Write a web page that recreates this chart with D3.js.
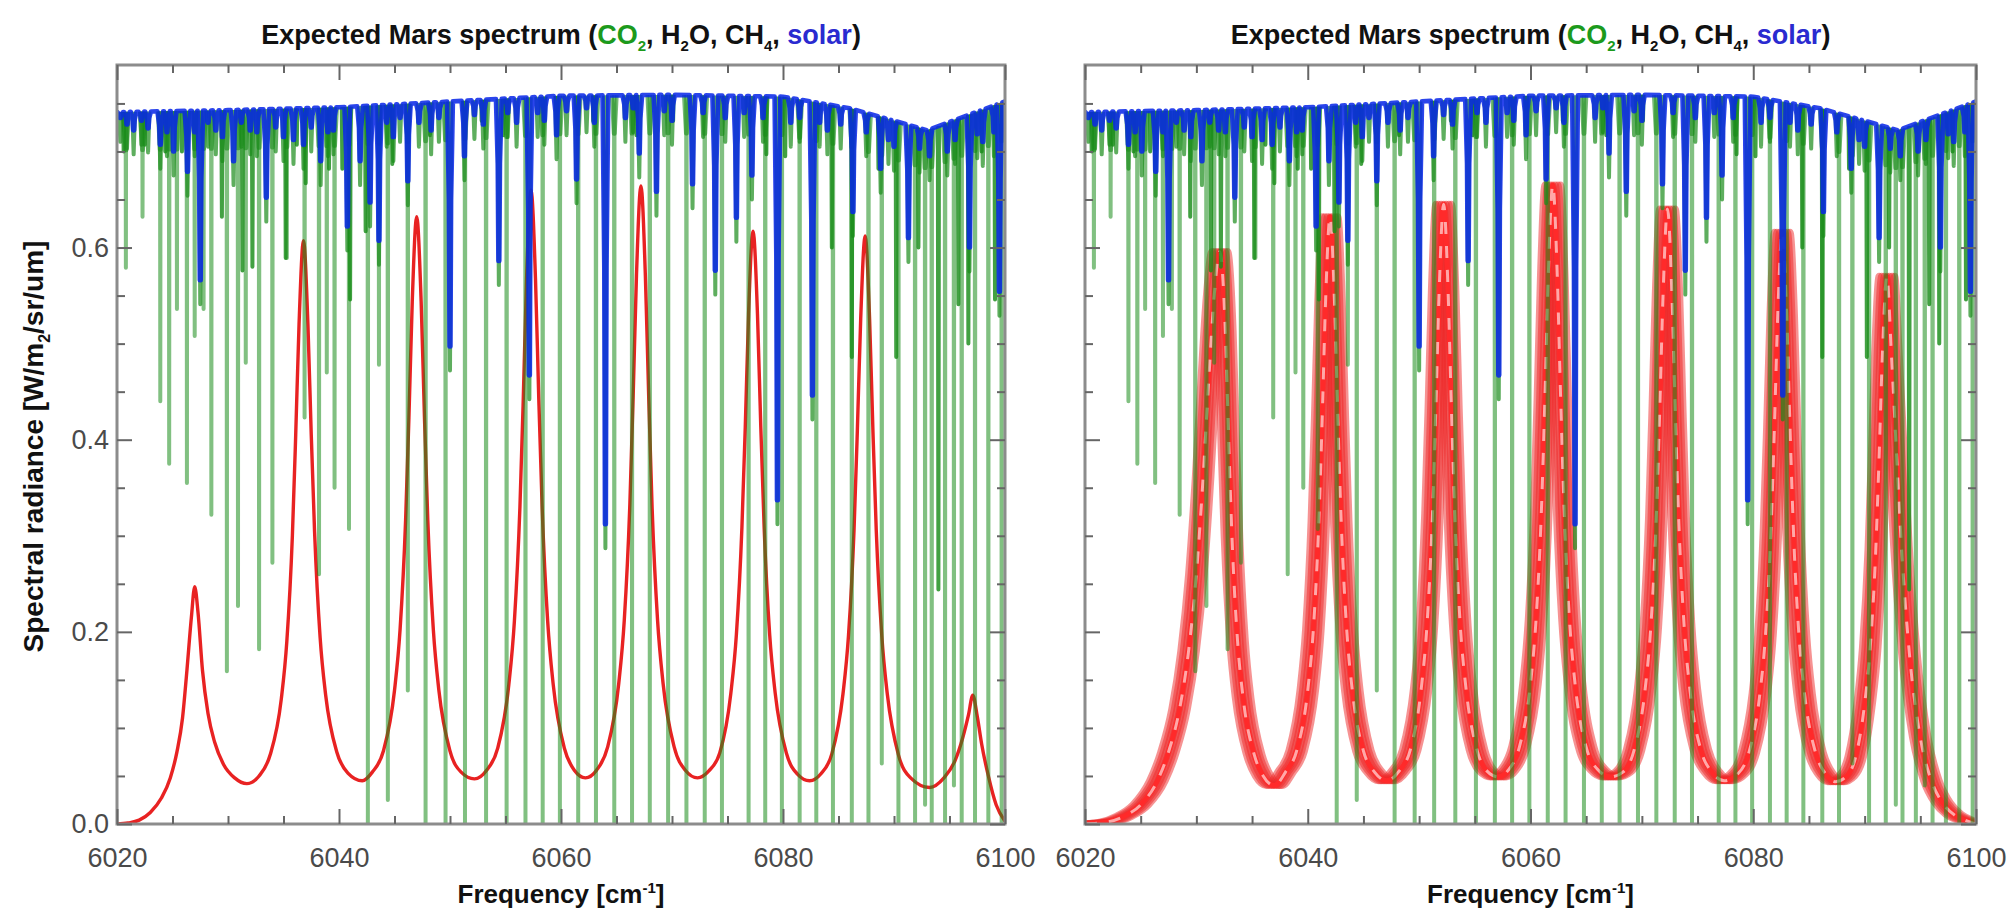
<!DOCTYPE html>
<html><head><meta charset="utf-8">
<script src="https://cdn.jsdelivr.net/npm/d3@7"></script>
<style>
body{margin:0;background:#fff;}
svg text{font-family:"Liberation Sans",Arial,sans-serif;}
</style></head><body>
<svg id="chart" width="2011" height="913"></svg>
<script>
// ---------------- data ----------------
const xTicks = [6020, 6040, 6060, 6080, 6100];
const yTicks = [0.0, 0.2, 0.4, 0.6];
const xDomain = [6020, 6100];
const yDomain = [0, 0.79];

// solar continuum level [frequency, radiance]
const continuum = [[6020,0.741],[6030,0.743],[6040,0.746],[6050,0.752],[6060,0.758],[6070,0.759],[6080,0.757],[6086,0.745],[6090,0.732],[6093,0.722],[6096,0.735],[6100,0.752]];

// CO2 absorption lines [frequency, minimum radiance]
const co2Lines = [[6020.8,0.579],[6022.3,0.632],[6023.9,0.44],[6024.7,0.375],[6025.4,0.536],[6026.3,0.355],[6027.0,0.508],[6027.8,0.536],[6028.5,0.322],[6029.9,0.159],[6030.9,0.227],[6031.6,0.48],[6032.8,0.182],[6034.0,0.272],[6035.3,0.589],[6036.9,0.423],[6038.2,0.26],[6038.9,0.47],[6039.6,0.35],[6040.9,0.307],[6042.6,0.0],[6043.6,0.478],[6044.4,0.025],[6046.2,0.139],[6047.8,0],[6049.6,0],[6051.35,0],[6053.25,0],[6055.1,0],[6056.8,0],[6058.35,0],[6059.9,0],[6061.55,0],[6063.15,0],[6064.8,0],[6066.4,0],[6068.0,0],[6069.65,0],[6071.3,0],[6072.95,0],[6074.5,0],[6076.9,0],[6078.4,0],[6079.9,0],[6081.5,0],[6083.0,0],[6084.5,0],[6086.2,0],[6087.7,0],[6088.9,0.063],[6090.4,0],[6091.9,0],[6092.8,0.02],[6093.4,0],[6094.6,0],[6095.4,0.04],[6096.1,0],[6097.3,0],[6098.5,0],[6099.7,0]];

// H2O / CH4 weaker lines [frequency, minimum radiance]
const h2oLines = [[6020.6,0.70],[6022.5,0.707],[6024.35,0.70],[6025.85,0.70],[6029.45,0.632],[6031.3,0.576],[6032.2,0.58],[6035.2,0.589],[6036.2,0.707],[6037.0,0.667],[6039.1,0.682],[6040.3,0.682],[6041.0,0.546],[6042.4,0.617],[6044.8,0.687],[6048.2,0.717],[6052.85,0.732],[6054.8,0.717],[6059.6,0.717],[6062.9,0.732],[6066.8,0.717],[6070.1,0.732],[6078.5,0.697],[6080.2,0.695],[6084.4,0.60],[6086.2,0.486],[6088.6,0.682],[6090.2,0.486],[6092.2,0.60],[6094.0,0.244],[6095.8,0.541],[6096.7,0.50],[6097.9,0.70],[6099.1,0.546]];

// solar (Fraunhofer) lines [frequency, minimum radiance]
const solarLines = [[6020.3,0.735],[6020.9,0.728],[6021.5,0.722],[6022.2,0.732],[6022.8,0.724],[6023.9,0.707],[6024.5,0.72],[6025.1,0.70],[6026.35,0.679],[6027.0,0.72],[6027.5,0.566],[6028.2,0.73],[6028.9,0.722],[6029.5,0.715],[6030.5,0.69],[6031.2,0.73],[6032.0,0.722],[6032.6,0.72],[6033.45,0.652],[6034.3,0.725],[6035.0,0.715],[6035.9,0.712],[6036.8,0.707],[6037.5,0.725],[6038.35,0.69],[6039.0,0.72],[6039.5,0.722],[6040.75,0.622],[6041.9,0.69],[6042.8,0.647],[6043.6,0.607],[6044.3,0.73],[6044.9,0.715],[6045.5,0.735],[6046.2,0.669],[6047.2,0.73],[6048.3,0.722],[6049.0,0.735],[6050.0,0.497],[6051.3,0.695],[6052.2,0.738],[6053.0,0.728],[6054.4,0.586],[6055.2,0.74],[6056.0,0.73],[6057.15,0.467],[6057.9,0.74],[6058.5,0.732],[6059.6,0.717],[6060.5,0.742],[6061.4,0.671],[6062.3,0.745],[6063.0,0.73],[6064.0,0.312],[6065.8,0.735],[6066.5,0.745],[6067.05,0.698],[6068.6,0.658],[6069.3,0.742],[6070.0,0.732],[6071.85,0.666],[6072.8,0.74],[6073.9,0.576],[6074.8,0.735],[6075.8,0.631],[6076.5,0.74],[6077.2,0.675],[6078.2,0.735],[6079.5,0.337],[6080.7,0.73],[6081.5,0.735],[6082.65,0.446],[6083.3,0.73],[6084.0,0.722],[6085.2,0.728],[6086.3,0.637],[6087.5,0.72],[6088.8,0.682],[6089.5,0.712],[6090.0,0.705],[6091.3,0.61],[6092.3,0.703],[6093.2,0.695],[6094.8,0.70],[6095.5,0.712],[6096.8,0.60],[6097.5,0.718],[6098.0,0.71],[6099.0,0.72],[6099.5,0.554]];

// instrument transmission (left panel, single order) [frequency, radiance]
const filterLeft = [[6020.0,0.000],[6021.0,0.001],[6022.0,0.004],[6023.0,0.012],[6024.0,0.027],[6024.8,0.048],[6025.4,0.075],[6025.9,0.110],[6026.3,0.160],[6026.7,0.215],[6027.0,0.247],[6027.3,0.220],[6027.7,0.160],[6028.2,0.115],[6028.8,0.085],[6029.6,0.062],[6030.6,0.048],[6031.7,0.042],[6032.8,0.050],[6033.8,0.072],[6034.8,0.130],[6035.3,0.190],[6035.8,0.300],[6036.1,0.405],[6036.4,0.520],[6036.8,0.607],[6037.2,0.520],[6037.5,0.405],[6037.8,0.304],[6038.3,0.194],[6038.8,0.134],[6039.8,0.075],[6040.8,0.053],[6042.1,0.045],[6043.0,0.054],[6044.0,0.076],[6045.0,0.139],[6045.5,0.202],[6046.0,0.316],[6046.3,0.423],[6046.6,0.544],[6047.0,0.632],[6047.4,0.544],[6047.7,0.423],[6048.0,0.316],[6048.5,0.202],[6049.0,0.139],[6050.0,0.076],[6051.0,0.054],[6052.2,0.047],[6053.3,0.056],[6054.3,0.079],[6055.3,0.145],[6055.8,0.211],[6056.3,0.330],[6056.6,0.442],[6056.9,0.568],[6057.3,0.660],[6057.7,0.568],[6058.0,0.442],[6058.3,0.330],[6058.8,0.211],[6059.3,0.145],[6060.3,0.079],[6061.2,0.056],[6062.2,0.048],[6063.2,0.056],[6064.2,0.080],[6065.2,0.146],[6065.7,0.212],[6066.2,0.332],[6066.5,0.445],[6066.8,0.571],[6067.2,0.664],[6067.6,0.571],[6067.9,0.445],[6068.2,0.332],[6068.7,0.212],[6069.2,0.146],[6070.2,0.080],[6071.2,0.056],[6072.3,0.048],[6073.3,0.055],[6074.3,0.074],[6075.3,0.136],[6075.8,0.197],[6076.3,0.309],[6076.6,0.413],[6076.9,0.531],[6077.3,0.617],[6077.7,0.531],[6078.0,0.413],[6078.3,0.309],[6078.8,0.197],[6079.3,0.136],[6080.3,0.074],[6081.3,0.052],[6082.4,0.045],[6083.4,0.052],[6084.4,0.073],[6085.4,0.135],[6085.9,0.196],[6086.4,0.306],[6086.7,0.410],[6087.0,0.526],[6087.4,0.612],[6087.8,0.526],[6088.1,0.410],[6088.4,0.306],[6088.9,0.196],[6089.4,0.135],[6090.4,0.072],[6091.5,0.048],[6093.2,0.038],[6094.5,0.048],[6095.5,0.066],[6096.2,0.090],[6096.7,0.113],[6097.1,0.134],[6097.5,0.112],[6097.9,0.083],[6098.5,0.050],[6099.2,0.020],[6100.0,0.003]];

// instrument transmission (right panel, centre of tuned family) [frequency, radiance]
const filterRight = [[6020.0,0.000],[6022.0,0.002],[6023.5,0.008],[6025.0,0.020],[6026.5,0.045],[6027.5,0.075],[6028.5,0.120],[6029.3,0.180],[6030.0,0.260],[6030.6,0.360],[6031.1,0.460],[6031.6,0.550],[6032.1,0.596],[6032.6,0.513],[6032.9,0.400],[6033.2,0.298],[6033.7,0.190],[6034.2,0.131],[6035.2,0.072],[6036.0,0.050],[6037.0,0.040],[6038.0,0.054],[6039.0,0.076],[6040.0,0.139],[6040.5,0.202],[6041.0,0.316],[6041.3,0.423],[6041.6,0.544],[6042.0,0.632],[6042.4,0.544],[6042.7,0.423],[6043.0,0.316],[6043.5,0.202],[6044.0,0.139],[6045.0,0.076],[6046.0,0.054],[6047.1,0.045],[6048.2,0.055],[6049.2,0.077],[6050.2,0.142],[6050.7,0.206],[6051.2,0.323],[6051.5,0.432],[6051.8,0.555],[6052.2,0.645],[6052.6,0.555],[6052.9,0.432],[6053.2,0.323],[6053.7,0.206],[6054.2,0.142],[6055.2,0.077],[6056.1,0.055],[6057.1,0.049],[6058.0,0.056],[6059.0,0.080],[6060.0,0.146],[6060.5,0.213],[6061.0,0.333],[6061.3,0.446],[6061.6,0.572],[6062.0,0.665],[6062.4,0.572],[6062.7,0.446],[6063.0,0.333],[6063.5,0.213],[6064.0,0.146],[6065.0,0.080],[6066.1,0.056],[6067.2,0.049],[6068.3,0.054],[6069.3,0.077],[6070.3,0.141],[6070.8,0.205],[6071.3,0.320],[6071.6,0.429],[6071.9,0.550],[6072.3,0.640],[6072.7,0.550],[6073.0,0.429],[6073.3,0.320],[6073.8,0.205],[6074.3,0.141],[6075.3,0.077],[6076.3,0.054],[6077.4,0.045],[6078.6,0.052],[6079.6,0.074],[6080.6,0.136],[6081.1,0.197],[6081.6,0.308],[6081.9,0.413],[6082.2,0.530],[6082.6,0.616],[6083.0,0.530],[6083.3,0.413],[6083.6,0.308],[6084.1,0.197],[6084.6,0.136],[6085.6,0.074],[6086.5,0.052],[6087.4,0.044],[6088.4,0.050],[6089.2,0.070],[6090.0,0.125],[6090.5,0.183],[6091.0,0.285],[6091.3,0.382],[6091.6,0.490],[6092.0,0.570],[6092.4,0.490],[6092.8,0.400],[6093.3,0.290],[6094.0,0.180],[6095.0,0.090],[6096.0,0.045],[6097.0,0.022],[6098.0,0.010],[6099.0,0.004],[6100.0,0.000]];

// tuning offsets of the right-panel family [cm-1]
const bandShifts = [-0.7, -0.47, -0.23, 0, 0.23, 0.47, 0.7];

// ---------------- drawing ----------------
const svg = d3.select("#chart");
const plotTop = 65, plotBottom = 824;
const panels = [
  {x0: 117, x1: 1005, filter: "left", yLabels: true},
  {x0: 1085, x1: 1976, filter: "right", yLabels: false}
];
const GREEN = "rgb(25,140,25)", BLUE = "rgb(8,38,232)", RED = "#e82222";

const cont = d3.scaleLinear().domain(continuum.map(d => d[0])).range(continuum.map(d => d[1])).clamp(true);

panels.forEach((p, i) => {
  const x = d3.scaleLinear().domain(xDomain).range([p.x0, p.x1]);
  const y = d3.scaleLinear().domain(yDomain).range([plotBottom, plotTop]);
  const line = d3.line().x(d => x(d[0])).y(d => y(d[1]));

  const clipId = "clip" + i;
  svg.append("clipPath").attr("id", clipId).append("rect")
    .attr("x", p.x0).attr("y", plotTop).attr("width", p.x1 - p.x0).attr("height", plotBottom - plotTop);
  const g = svg.append("g").attr("clip-path", `url(#${clipId})`);

  // red instrument curve(s)
  if (p.filter === "left") {
    g.append("path").attr("d", line.curve(d3.curveMonotoneX)(filterLeft))
      .attr("fill", "none").attr("stroke", RED).attr("stroke-width", 3.4);
    line.curve(d3.curveLinear);
  } else {
    const sl = d3.line().curve(d3.curveMonotoneX).y(d => y(d[1]));
    bandShifts.forEach(s => {
      g.append("path").attr("d", sl.x(d => x(d[0] + s))(filterRight))
        .attr("fill", "none").attr("stroke", "#ee2828").attr("stroke-opacity", 0.5)
        .attr("stroke-width", 7).attr("stroke-linejoin", "round");
    });
    g.append("path").attr("d", sl.x(d => x(d[0]))(filterRight))
      .attr("fill", "none").attr("stroke", "#ff2a2a").attr("stroke-width", 5);
    g.append("path").attr("d", sl.x(d => x(d[0]))(filterRight))
      .attr("fill", "none").attr("stroke", "#ffa8a8").attr("stroke-width", 3)
      .attr("stroke-dasharray", "12 12");
  }

  // green atmospheric transmission lines
  const gg = g.append("g").attr("fill", "none").attr("stroke", GREEN)
    .attr("stroke-width", 4).attr("stroke-linejoin", "round");
  const lineCore = (f, m, hw) => line([[f - hw, cont(f - hw)], [f, m], [f + hw, cont(f + hw)]]);
  const lineWing = (f, m) => {
    const c = cont(f), w = Math.max(m, c - 0.04);
    return line([[f - 0.22, cont(f - 0.22)], [f - 0.04, w], [f + 0.04, w], [f + 0.22, cont(f + 0.22)]]);
  };
  co2Lines.forEach(([f, m]) => {
    gg.append("path").attr("d", lineWing(f, m)).attr("stroke-opacity", 0.6);
    gg.append("path").attr("d", lineCore(f, m, 0.02)).attr("stroke-opacity", 0.55);
  });
  h2oLines.forEach(([f, m]) => {
    gg.append("path").attr("d", lineCore(f, m, 0.05)).attr("stroke-opacity", 0.82);
  });
  solarLines.forEach(([f, m]) => {
    gg.append("path").attr("d", lineCore(f, Math.max(0, m - 0.025), 0.12)).attr("stroke-opacity", 0.7);
  });

  // blue solar spectrum
  const pts = [];
  continuum.forEach(c => {
    if (!solarLines.some(s => Math.abs(c[0] - s[0]) < 0.26)) pts.push([c[0], c[1]]);
  });
  solarLines.forEach(([f, m]) => {
    const c = cont(f);
    pts.push([f - 0.26, cont(f - 0.26)], [f - 0.1, c - (c - m) * 0.4], [f - 0.04, m],
             [f + 0.04, m], [f + 0.1, c - (c - m) * 0.4], [f + 0.26, cont(f + 0.26)]);
  });
  pts.sort((a, b) => a[0] - b[0]);
  g.append("path").attr("d", line(pts)).attr("fill", "none").attr("stroke", BLUE)
    .attr("stroke-opacity", 0.86).attr("stroke-width", 4.6).attr("stroke-linejoin", "round");

  // frame
  svg.append("rect").attr("x", p.x0).attr("y", plotTop).attr("width", p.x1 - p.x0)
    .attr("height", plotBottom - plotTop).attr("fill", "none").attr("stroke", "#8c8c8c").attr("stroke-width", 3);

  // axes (ticks inward)
  const minorX = x.ticks(16).filter(t => !xTicks.includes(t));
  const minorY = d3.range(0.05, 0.79, 0.05).filter(t => !yTicks.some(v => Math.abs(v - t) < 1e-6));
  const styleAxis = sel => {
    sel.select(".domain").remove();
    sel.selectAll(".tick line").attr("stroke", "#666").attr("stroke-width", 2);
    sel.selectAll(".tick text").attr("fill", "#4a4a4a").style("font-size", "27px");
  };
  svg.append("g").attr("transform", `translate(0,${plotBottom})`)
    .call(d3.axisBottom(x).tickValues(xTicks).tickSize(-15).tickPadding(24).tickFormat(d3.format("d"))).call(styleAxis);
  svg.append("g").attr("transform", `translate(0,${plotBottom})`)
    .call(d3.axisBottom(x).tickValues(minorX).tickSize(-8).tickFormat("")).call(styleAxis);
  svg.append("g").attr("transform", `translate(0,${plotTop})`)
    .call(d3.axisTop(x).tickValues(xTicks).tickSize(-15).tickFormat("")).call(styleAxis);
  svg.append("g").attr("transform", `translate(0,${plotTop})`)
    .call(d3.axisTop(x).tickValues(minorX).tickSize(-8).tickFormat("")).call(styleAxis);
  svg.append("g").attr("transform", `translate(${p.x0},0)`)
    .call(d3.axisLeft(y).tickValues(yTicks).tickSize(-15).tickPadding(8)
      .tickFormat(p.yLabels ? d3.format(".1f") : "")).call(styleAxis);
  svg.append("g").attr("transform", `translate(${p.x0},0)`)
    .call(d3.axisLeft(y).tickValues(minorY).tickSize(-8).tickFormat("")).call(styleAxis);
  svg.append("g").attr("transform", `translate(${p.x1},0)`)
    .call(d3.axisRight(y).tickValues(yTicks).tickSize(-15).tickFormat("")).call(styleAxis);
  svg.append("g").attr("transform", `translate(${p.x1},0)`)
    .call(d3.axisRight(y).tickValues(minorY).tickSize(-8).tickFormat("")).call(styleAxis);

  // title
  const cx = (p.x0 + p.x1) / 2;
  const t = svg.append("text").attr("x", cx).attr("y", 44).attr("text-anchor", "middle")
    .style("font-size", "27px").style("font-weight", "bold").attr("fill", "#111");
  const parts = [
    ["Expected Mars spectrum (", "#111", 0], ["CO", "#1c9a1c", 0], ["2", "#1c9a1c", 1],
    [", H", "#111", 0], ["2", "#111", 1], ["O, CH", "#111", 0], ["4", "#111", 1],
    [", ", "#111", 0], ["solar", "#2a2ad0", 0], [")", "#111", 0]
  ];
  let shifted = false;
  parts.forEach(([txt, col, sub]) => {
    const ts = t.append("tspan").text(txt).attr("fill", col);
    if (sub) { ts.attr("dy", 7).style("font-size", "15px"); shifted = true; }
    else if (shifted) { ts.attr("dy", -7); shifted = false; }
  });

  // x label
  const xl = svg.append("text").attr("x", cx).attr("y", 903).attr("text-anchor", "middle")
    .style("font-size", "26px").style("font-weight", "bold").attr("fill", "#111");
  xl.append("tspan").text("Frequency [cm");
  xl.append("tspan").text("-1").attr("dy", -10).style("font-size", "15px");
  xl.append("tspan").text("]").attr("dy", 10);

  // y label
  if (p.yLabels) {
    const yl = svg.append("text").attr("transform", `translate(43,${(plotTop + plotBottom) / 2 + 2}) rotate(-90)`)
      .attr("text-anchor", "middle").style("font-size", "28px").style("font-weight", "bold").attr("fill", "#111");
    yl.append("tspan").text("Spectral radiance [W/m");
    yl.append("tspan").text("2").attr("dy", 7).style("font-size", "16px");
    yl.append("tspan").text("/sr/um]").attr("dy", -7);
  }
});
</script>
</body></html>
